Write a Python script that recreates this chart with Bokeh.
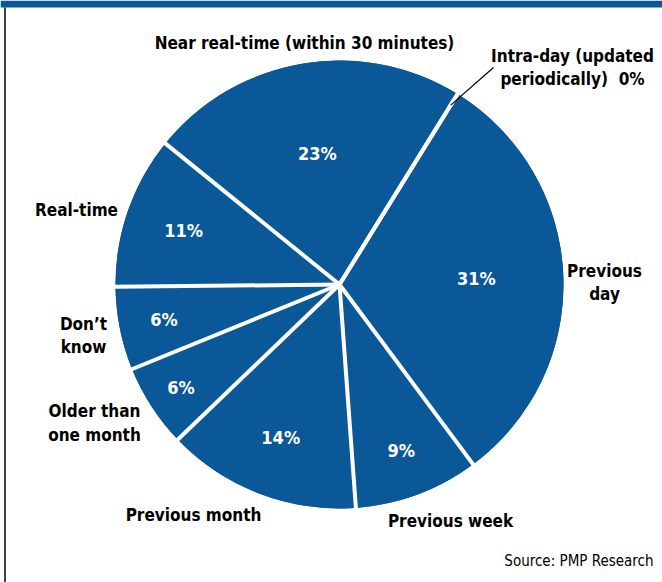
import math
from bokeh.plotting import figure
from bokeh.models import Range1d, ColumnDataSource
from bokeh.core.properties import value
from bokeh.embed import file_html
from bokeh.resources import INLINE

# ---------------- data ----------------
categories = ["Intra-day (updated periodically)", "Previous day", "Previous week",
              "Previous month", "Older than one month", "Don’t know", "Real-time",
              "Near real-time (within 30 minutes)"]
values = [0, 31, 9, 14, 6, 6, 11, 23]
pct_labels = ["0%", "31%", "9%", "14%", "6%", "6%", "11%", "23%"]

# ---------------- layout ----------------
W, H = 662, 582
BLUE = "#0b5899"
FONT = "'DejaVu Sans Condensed', 'Roboto Condensed', 'Open Sans', sans-serif"
CX, CY = 339, 284          # pie centre in pixel coords (y down)
R = 224
START_DEG = 58.2           # math angle of first boundary (clockwise drawing)
LABEL_R = [0, 137, 177, 164, 189, 179, 165, 133]

def Y(py):
    return H - py

p = figure(width=W, height=H, x_range=Range1d(0, W), y_range=Range1d(0, H),
           output_backend="svg", toolbar_location=None, min_border=0,
           outline_line_color=None, background_fill_color="white",
           border_fill_color="white")
p.axis.visible = False
p.grid.visible = False

# frame: top band and left rule
p.quad(left=[0], right=[W], top=[Y(0)], bottom=[Y(7)], fill_color=BLUE, line_color=None)
p.segment(x0=[4.5], y0=[Y(7)], x1=[4.5], y1=[Y(582)], line_color="black", line_width=1.5)

# wedges
total = float(sum(values))
starts, ends, mids = [], [], []
a = math.radians(START_DEG)
for v in values:
    da = v / total * 2 * math.pi
    starts.append(a)
    ends.append(a - da)
    mids.append(a - da / 2)
    a -= da

src = ColumnDataSource(dict(start=starts, end=ends, cat=categories, val=values))
p.wedge(x=CX, y=Y(CY), radius=R, start_angle="start", end_angle="end",
        direction="clock", source=src, fill_color=BLUE, line_color=None)

# separators
p.segment(x0=[CX] * len(starts), y0=[Y(CY)] * len(starts),
          x1=[CX + (R + 1) * math.cos(s) for s in starts],
          y1=[Y(CY) + (R + 1) * math.sin(s) for s in starts],
          line_color="white", line_width=4)

# percent labels inside
px, py, pt = [], [], []
for i, lab in enumerate(pct_labels):
    if values[i] == 0:
        continue
    px.append(CX + LABEL_R[i] * math.cos(mids[i]))
    py.append(Y(CY) + LABEL_R[i] * math.sin(mids[i]))
    pt.append(lab)
p.text(x=px, y=py, text=pt, text_color="white", text_font=value(FONT),
       text_font_style="bold", text_font_size="18px", text_align="center",
       text_baseline="middle")

# leader for 0% slice
a0 = starts[0]
p.segment(x0=[CX + 211 * math.cos(a0)], y0=[Y(CY) + 211 * math.sin(a0)],
          x1=[493], y1=[Y(67)], line_color="black", line_width=1.2)

# outer category labels (lines of text with pixel positions)
outer = [
    ("Near real-time (within 30 minutes)", 304, 42),
    ("Intra-day (updated", 572, 55),
    ("periodically)\u00a0\u00a00%", 572, 78),
    ("Real-time", 76, 209),
    ("Don’t", 83, 323),
    ("know", 83, 346),
    ("Older than", 94, 410),
    ("one month", 94, 434),
    ("Previous month", 193, 514),
    ("Previous week", 450, 520),
    ("Previous", 604, 270),
    ("day", 604, 293),
]
p.text(x=[o[1] for o in outer], y=[Y(o[2]) for o in outer], text=[o[0] for o in outer],
       text_color="black", text_font=value(FONT), text_font_style="bold",
       text_font_size="17px", text_align="center", text_baseline="middle")

p.text(x=[653], y=[Y(560)], text=["Source: PMP Research"], text_color="black",
       text_font=value(FONT), text_font_size="15px", text_align="right",
       text_baseline="middle")

open("out.html", "w").write(file_html(p, INLINE))
